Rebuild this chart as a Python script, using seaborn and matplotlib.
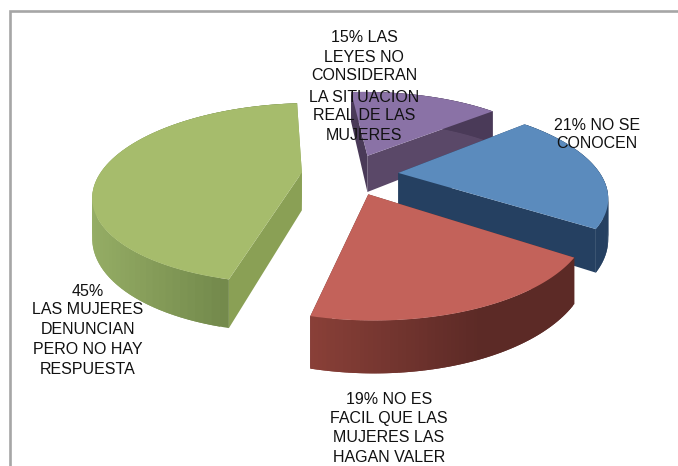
import numpy as np
import matplotlib
matplotlib.use("Agg")
import matplotlib.pyplot as plt
import seaborn as sns

# clockwise from the purple slice
categories = ["LEYES", "NO SE CONOCEN", "NO ES FACIL", "DENUNCIAN"]
values = [15, 21, 19, 45]
top_colors = ["#8a72a6", "#5b8bbd", "#c3625a", "#a6bc6c"]
side_colors = ["#5a4868", "#254061", "#63302a", "#8aa055"]
rim_left = ["#4a3a58", "#254061", "#8a4038", "#95ad65"]
rim_right = ["#4a3a58", "#254061", "#5c2a26", "#748a4c"]

label_lines = [
    ["15% LAS", "LEYES NO", "CONSIDERAN", "LA SITUACION", "REAL DE LAS", "MUJERES"],
    ["21% NO SE", "CONOCEN"],
    ["19% NO ES", "FACIL QUE LAS", "MUJERES LAS", "HAGAN VALER"],
    ["45%", "LAS MUJERES", "DENUNCIAN", "PERO NO HAY", "RESPUESTA"],
]
label_x = [364, 597, 389, 88]
label_y = [
    [38, 57, 76, 97, 116, 135],
    [125, 144],
    [399, 418, 437, 458],
    [291, 310, 329, 350, 369],
]

START = 94.8
EXPLODE = 0.24
X0, Y0 = 350, 174
SX, SY = 202, 86
PERSP = 0.23
DEPTH = 38


def project(x, y, z=0.0):
    w = 1 + PERSP * y
    return X0 + SX * x / w, Y0 - SY * y / w + DEPTH * z / w


def mix(c1, c2, t):
    a = np.array(matplotlib.colors.to_rgb(c1))
    b = np.array(matplotlib.colors.to_rgb(c2))
    return tuple(a + (b - a) * t)


sns.set_theme(style="white")
plt.rcParams["font.family"] = ["Liberation Sans", "DejaVu Sans"]

fig, ax = plt.subplots(figsize=(6.78, 4.66), dpi=100)
ax.set_position([0, 0, 1, 1])
ax.set_xlim(0, 678)
ax.set_ylim(466, 0)
ax.axis("off")

stops = START - np.cumsum([0] + values) * 3.6
order = [0, 1, 3, 2]  # far slices first

for i in order:
    a0, a1 = np.radians(stops[i]), np.radians(stops[i + 1])
    mid = (a0 + a1) / 2
    ox, oy = EXPLODE * np.cos(mid), EXPLODE * np.sin(mid)
    t = np.linspace(a0, a1, 80)
    ex, ey = ox + np.cos(t), oy + np.sin(t)

    # the two cut walls
    for ang, col in [(a0, rim_left[i] if i == 0 else side_colors[i]), (a1, side_colors[i])]:
        x1, y1 = ox + np.cos(ang), oy + np.sin(ang)
        pts = [project(ox, oy), project(x1, y1), project(x1, y1, 1), project(ox, oy, 1)]
        ax.fill(*zip(*pts), color=col, lw=0)

    # outer wall, shaded in overlapping strips
    xt, yt = project(ex, ey)
    xb, yb = project(ex, ey, 1)
    for k in range(len(t) - 1):
        frac = min((xt[k] - xt.min()) / max(xt.max() - xt.min(), 1) / 0.65, 1)
        j = min(k + 2, len(t) - 1)
        ax.fill([xt[k], xt[j], xb[j], xb[k]], [yt[k], yt[j], yb[j], yb[k]],
                color=mix(rim_left[i], rim_right[i], frac), lw=0)

    # top face
    px, py = project(np.r_[ox, ex], np.r_[oy, ey])
    ax.fill(px, py, color=top_colors[i], lw=0)

for lines, x, ys in zip(label_lines, label_x, label_y):
    for line, y in zip(lines, ys):
        ax.text(x, y, line, ha="center", va="center", fontsize=11.5, color="#111111", zorder=5)

ax.plot([9.5, 9.5, 678], [466, 10.5, 10.5], color="#a6a6a6", lw=1.9, zorder=6, solid_joinstyle="miter")

fig.savefig("out.png", dpi=100, facecolor="white")
